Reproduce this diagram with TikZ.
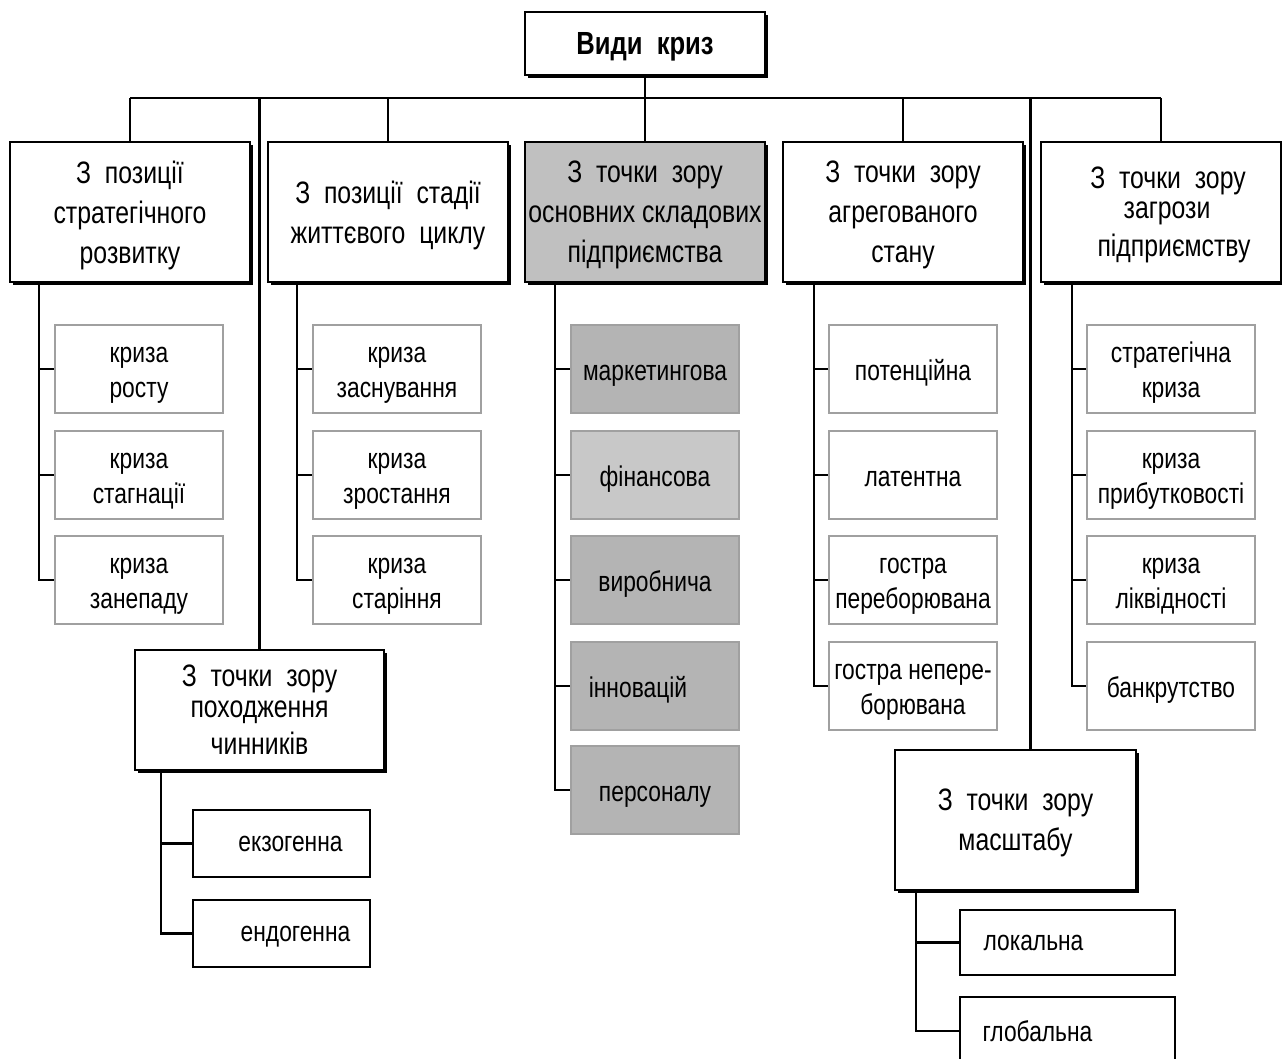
\documentclass[tikz,border=0pt]{standalone}
\usepackage{fontspec}
\setmainfont[FakeStretch=0.8]{Liberation Sans}
\usetikzlibrary{shadows}
\definecolor{hdrgray}{HTML}{C0C0C0}
\definecolor{darkleaf}{HTML}{B4B4B4}
\definecolor{lightleaf}{HTML}{C8C8C8}
\definecolor{leafline}{HTML}{A0A0A0}
\newcommand{\leafstrut}{\rule{0pt}{30pt}}
\begin{document}
\begin{tikzpicture}[x=1pt,y=-1pt,
  hdr/.style={draw=black, line width=1.6pt, fill=white, align=center,
    font=\fontsize{31}{40}\selectfont, inner sep=1pt, text depth=0pt,
    minimum width=240pt, minimum height=140pt,
    drop shadow={shadow xshift=3pt, shadow yshift=-3pt, opacity=1, fill=black}},
  leaf/.style={draw=leafline, line width=1.6pt, fill=white, align=center,
    font=\fontsize{28.5}{35}\selectfont, inner sep=1pt,
    execute at begin node={\rule{0pt}{30pt}},
    execute at end node={\rule[-8pt]{0pt}{8pt}},
    minimum width=168pt, minimum height=88pt},
  bleaf/.style={draw=black, line width=1.8pt, fill=white, align=center,
    font=\fontsize{28.5}{35}\selectfont, inner sep=1pt, text depth=-3pt},
  conn/.style={draw=black, line width=2.4pt}]
\fill[white] (0,0) rectangle (1282,1059);
\useasboundingbox (0,0) rectangle (1282,1059);

% top
\node[hdr, font=\bfseries\fontsize{32}{38}\selectfont, minimum width=240pt, minimum height=63pt] (top) at (645,43.5) {Види~~криз};

% level 1
\node[hdr] (c1) at (130,212) {З~~позиції\\стратегічного\\розвитку};
\node[hdr] (c2) at (388,212) {З~~позиції~~стадії\\життєвого~~циклу};
\node[hdr, fill=hdrgray] (c3) at (645,212) {З~~точки~~зору\\основних складових\\підприємства};
\node[hdr] (c4) at (903,212) {З~~точки~~зору\\агрегованого\\стану};
\node[hdr] (c5) at (1161,212) {\hspace*{14pt}З~~точки~~зору\\[-10pt]\hspace*{12pt}загрози\\[-2pt]\hspace*{26pt}підприємству};
\node[hdr, minimum width=249pt, minimum height=120pt] (c6) at (259.5,710) {З~~точки~~зору\\[-9pt]походження\\[-3pt]чинників};
\node[hdr, minimum width=241pt, minimum height=140pt] (c7) at (1015.5,820) {З~~точки~~зору\\масштабу};

% column 1 leaves
\node[leaf] (l11) at (139,369) {\leafstrut криза\\росту};
\node[leaf] (l12) at (139,475) {\leafstrut криза\\стагнації};
\node[leaf] (l13) at (139,580) {\leafstrut криза\\занепаду};
% column 2 leaves
\node[leaf] (l21) at (397,369) {\leafstrut криза\\заснування};
\node[leaf] (l22) at (397,475) {\leafstrut криза\\зростання};
\node[leaf] (l23) at (397,580) {\leafstrut криза\\старіння};
% column 3 leaves
\node[leaf, fill=darkleaf] (l31) at (655,369) {маркетингова};
\node[leaf, fill=lightleaf] (l32) at (655,475) {фінансова};
\node[leaf, fill=darkleaf] (l33) at (655,580) {виробнича};
\node[leaf, fill=darkleaf] (l34) at (655,686) {інновацій\hspace*{34pt}};
\node[leaf, fill=darkleaf] (l35) at (655,790) {персоналу};
% column 4 leaves
\node[leaf] (l41) at (913,369) {потенційна};
\node[leaf] (l42) at (913,475) {латентна};
\node[leaf] (l43) at (913,580) {\leafstrut гостра\\переборювана};
\node[leaf] (l44) at (913,686) {\leafstrut гостра непере-\\борювана};
% column 5 leaves
\node[leaf] (l51) at (1171,369) {\leafstrut стратегічна\\криза};
\node[leaf] (l52) at (1171,475) {\leafstrut криза\\прибутковості};
\node[leaf] (l53) at (1171,580) {\leafstrut криза\\ліквідності};
\node[leaf] (l54) at (1171,686) {банкрутство};
% origin leaves
\node[bleaf, minimum width=177pt, minimum height=67pt] (l61) at (281.5,843.5) {\hspace*{18pt}екзогенна};
\node[bleaf, minimum width=177pt, minimum height=67pt] (l62) at (281.5,933.5) {\hspace*{28pt}ендогенна};
% scale leaves
\node[bleaf, minimum width=215pt, minimum height=65pt] (l71) at (1067.5,942.5) {локальна\hspace*{68pt}};
\node[bleaf, minimum width=215pt, minimum height=68pt] (l72) at (1067.5,1031) {глобальна\hspace*{60pt}};

% bus
\coordinate (busL) at (130,98);
\coordinate (busR) at (1161,98);
\draw[conn] (top.south) -- (top.south |- busL);
\draw[conn] (busL) -- (busR);
\foreach \c in {c1,c2,c3,c4,c5,c6} {
  \draw[conn] (\c.north) -- (\c.north |- busL);
}
\draw[conn] ([xshift=15pt]c7.north) -- ([xshift=15pt]c7.north |- busL);

% spines
\coordinate (s1) at ([xshift=30pt]c1.south west);
\coordinate (s2) at ([xshift=30pt]c2.south west);
\coordinate (s3) at ([xshift=31pt]c3.south west);
\coordinate (s4) at ([xshift=32pt]c4.south west);
\coordinate (s5) at ([xshift=32pt]c5.south west);
\coordinate (s6) at ([xshift=27pt]c6.south west);
\coordinate (s7) at ([xshift=22pt]c7.south west);
\foreach \l in {l11,l12,l13} \draw[conn] (s1) |- (\l.west);
\foreach \l in {l21,l22,l23} \draw[conn] (s2) |- (\l.west);
\foreach \l in {l31,l32,l33,l34,l35} \draw[conn] (s3) |- (\l.west);
\foreach \l in {l41,l42,l43,l44} \draw[conn] (s4) |- (\l.west);
\foreach \l in {l51,l52,l53,l54} \draw[conn] (s5) |- (\l.west);
\foreach \l in {l61,l62} \draw[conn] (s6) |- (\l.west);
\foreach \l in {l71,l72} \draw[conn] (s7) |- (\l.west);
\end{tikzpicture}
\end{document}
